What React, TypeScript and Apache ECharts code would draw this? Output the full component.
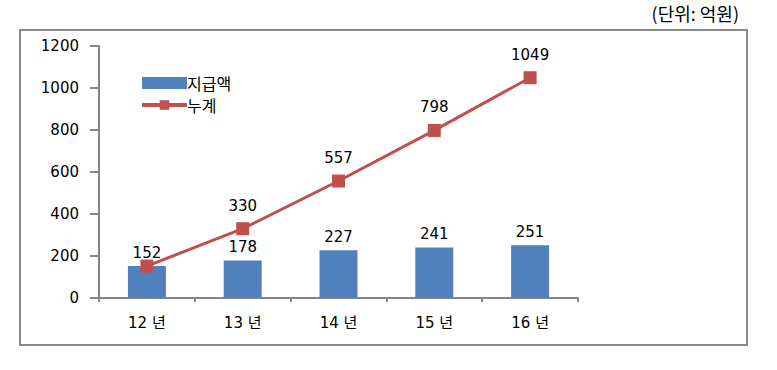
import React, { useEffect, useRef } from "react";
import * as echarts from "echarts";

const categories = ["12 년", "13 년", "14 년", "15 년", "16 년"];
const payments = [152, 178, 227, 241, 251];
const cumulative = [152, 330, 557, 798, 1049];
const yTicks = [0, 200, 400, 600, 800, 1000, 1200];
const seriesNames = ["지급액", "누계"];
const unitTitle = "(단위: 억원)";

const FONT = "'DejaVu Sans', 'Noto Sans CJK KR', sans-serif";

export default function App() {
  const ref = useRef<HTMLDivElement>(null);
  useEffect(() => {
    if (!ref.current) return;
    const chart = echarts.init(ref.current, undefined, { renderer: "svg" });
    chart.setOption({
      animation: false,
      backgroundColor: "#ffffff",
      textStyle: { fontFamily: FONT },
      graphic: [
        {
          type: "rect",
          shape: { x: 20, y: 30, width: 727, height: 315 },
          style: { fill: "none", stroke: "#8a8a8a", lineWidth: 2 },
          silent: true,
        },
        {
          type: "text",
          right: 38,
          top: 4,
          style: {
            text: unitTitle,
            fill: "#000",
            font: `18px 'Noto Sans CJK KR', sans-serif`,
          },
        },
      ],
      legend: {
        orient: "vertical",
        left: 135,
        top: 70,
        itemWidth: 45,
        itemHeight: 12,
        itemGap: 6,
        textStyle: {
          fontSize: 16,
          lineHeight: 16,
          color: "#000",
          fontFamily: "'Noto Sans CJK KR', sans-serif",
          padding: [0, 0, 0, -5],
        },
        data: [
          { name: seriesNames[0], icon: "rect" },
          { name: seriesNames[1], lineStyle: { width: 4 } },
        ],
      },
      grid: { left: 99, right: 199, top: 46, bottom: 72, containLabel: false },
      xAxis: {
        type: "category",
        data: categories,
        axisLine: { lineStyle: { color: "#868686", width: 2 } },
        axisTick: { show: true, length: 4, lineStyle: { color: "#868686", width: 2 } },
        axisLabel: { margin: 17, fontSize: 15, color: "#000", fontFamily: FONT },
      },
      yAxis: {
        type: "value",
        min: 0,
        max: yTicks[yTicks.length - 1],
        interval: yTicks[1] - yTicks[0],
        axisLine: { show: true, lineStyle: { color: "#868686", width: 2 } },
        axisTick: { show: true, inside: false, length: 9, lineStyle: { color: "#868686", width: 2 } },
        splitLine: { show: false },
        axisLabel: {
          margin: 20,
          fontSize: 15,
          color: "#000",
          fontFamily: FONT,
          formatter: (v: number) => String(v),
        },
      },
      series: [
        {
          name: seriesNames[0],
          type: "bar",
          data: payments,
          barWidth: 38,
          itemStyle: { color: "#4F81BD" },
          label: { show: true, position: "top", distance: 6, fontSize: 15, color: "#000", fontFamily: FONT },
        },
        {
          name: seriesNames[1],
          type: "line",
          data: cumulative.map((v, i) => ({ value: v, label: { show: i !== 0 } })),
          symbol: "rect",
          symbolSize: 13,
          lineStyle: { color: "#C0504D", width: 3 },
          itemStyle: { color: "#C0504D" },
          label: { show: true, position: "top", distance: 9, fontSize: 15, color: "#000", fontFamily: FONT },
        },
      ],
    });
    return () => chart.dispose();
  }, []);
  return <div ref={ref} style={{ width: 777, height: 370, position: "absolute", left: 0, top: 0 }} />;
}
